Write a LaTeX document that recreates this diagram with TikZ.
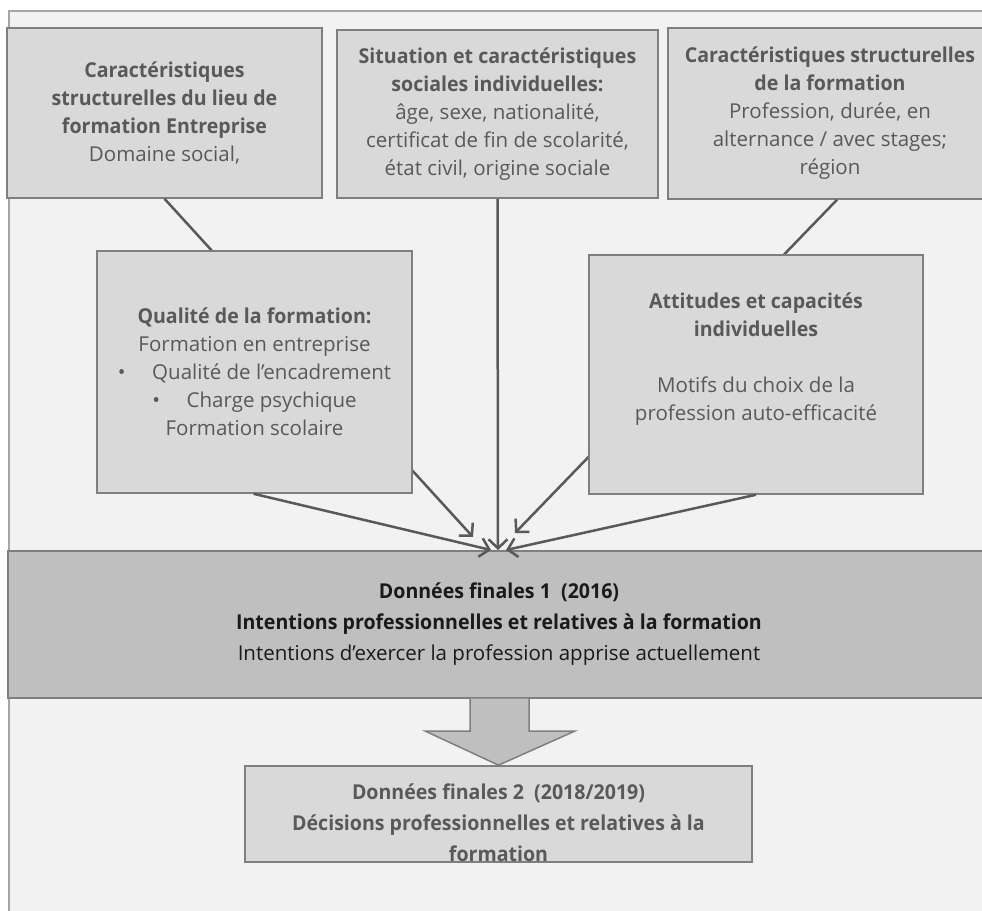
\documentclass[tikz,border=0pt]{standalone}
\usepackage{fontspec}
\setmainfont{Open Sans}[BoldFeatures={FakeStretch=0.955}]
\usetikzlibrary{arrows.meta}
\definecolor{framebg}{HTML}{F2F2F2}
\definecolor{framegray}{HTML}{A6A6A6}
\definecolor{boxfill}{HTML}{D9D9D9}
\definecolor{darkfill}{HTML}{BFBFBF}
\definecolor{boxline}{HTML}{7F7F7F}
\definecolor{txtgray}{HTML}{595959}
\definecolor{txtdark}{HTML}{1A1A1A}
\tikzset{box/.style = {shape=rectangle,draw=boxline,fill=boxfill,line width=1.5pt,align=center,text=txtgray,inner sep=0pt,font=\fontsize{20.5}{28}\selectfont}}
\tikzset{dbox/.style = {box,fill=darkfill,text=txtdark,font=\fontsize{20.5}{31}\selectfont}}
\tikzset{edge/.style = {-{Straight Barb[length=9pt,width=19pt]},draw=txtgray,line width=2.5pt}}
\tikzset{bigarrow/.style = {draw=boxline,fill=darkfill,line width=1.5pt,line join=miter}}

\begin{document}
\begin{tikzpicture}[x=1pt,y=-1pt]
                \useasboundingbox (0,0) rectangle (982,910);
                \clip (0,0) rectangle (982,910);
                % background frame
                \path[fill=framebg,draw=framegray,line width=2pt] (9,11) rectangle (1000,1000);
                % top row
                \node[box,minimum width=315,minimum height=170] (lieu) at (164.5,113) {\textbf{Caractéristiques}\\\textbf{structurelles du lieu de}\\\textbf{formation Entreprise}\\Domaine social,};
                \node[box,minimum width=321,minimum height=168] (sociales) at (497.5,114) {\textbf{Situation et caractéristiques}\\\textbf{sociales individuelles:}\\âge, sexe, nationalité,\\certificat de fin de scolarité,\\état civil, origine sociale};
                \node[box,minimum width=324,minimum height=171] (structure) at (830,113.5) {\textbf{Caractéristiques structurelles}\\\textbf{de la formation}\\Profession, durée, en\\alternance / avec stages;\\région};
                % final data 1
                \node[dbox,minimum width=982,minimum height=147] (final1) at (499,624.5) {\textbf{Données finales 1~~(2016)}\\\textbf{Intentions professionnelles et relatives à la formation}\\Intentions d’exercer la profession apprise actuellement};
                \coordinate (tlieu) at (473,537);
                \coordinate (tsoc) at (498,550);
                \coordinate (tstruct) at (515,533);
                \coordinate (tqual) at (491,550);
                \coordinate (tatt) at (506,550);
                \draw[edge] (lieu.south) -- (tlieu);
                \draw[edge] (sociales.south) -- (tsoc);
                \draw[edge] ([xshift=7]structure.south) -- (tstruct);
                % middle row
                \node[box,minimum width=315,minimum height=242] (qualite) at (254.5,372) {\textbf{Qualité de la formation:}\\Formation en entreprise\\\textbullet\hspace{1.3em}Qualité de l’encadrement\\\textbullet\hspace{1.3em}Charge psychique\\Formation scolaire};
                \node[box,minimum width=334,minimum height=239] (attitudes) at (756,374.5) {\textbf{Attitudes et capacités}\\\textbf{individuelles}\\\strut\\Motifs du choix de la\\profession auto-efficacité\\\strut};
                \draw[edge] ([xshift=-1]qualite.south) -- (tqual);
                \draw[edge] (attitudes.south) -- (tatt);
                % final data 2
                \node[dbox,fill=boxfill,text=txtgray,minimum width=507,minimum height=96] (final2) at (498.5,814) {\rule{0pt}{34pt}\textbf{Données finales 2~~(2018/2019)}\\\textbf{Décisions professionnelles et relatives à la}\\\textbf{formation}};
                \draw[bigarrow] (470,698.5) -- (470,731) -- (425,731) -- (final2.north) -- (575,731) -- (529,731) -- (529,698.5);
\end{tikzpicture}
\end{document}
